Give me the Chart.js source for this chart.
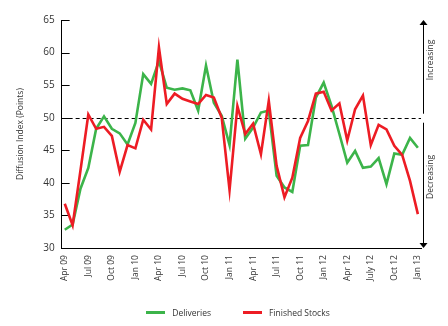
<!DOCTYPE html>
<html>
<head>
<meta charset="utf-8">
<script src="https://cdn.jsdelivr.net/npm/chart.js@4/dist/chart.umd.min.js"></script>
<style>
  html, body { margin: 0; padding: 0; background: #fff; }
  #wrap { position: relative; width: 448px; height: 326px; }
  #legend { position: absolute; left: 14px; top: 307px; width: 448px; display: flex; justify-content: center;
            font: 8.5px "Open Sans", sans-serif; color: #333; }
  #legend span.item { display: flex; align-items: center; margin: 0 16px; }
  #legend span.swatch { display: inline-block; width: 19px; height: 3px; margin-right: 7px; }
</style>
</head>
<body>
<div id="wrap">
  <canvas id="chart" width="448" height="326"></canvas>
  <div id="legend"></div>
</div>
<script>
// months Apr 09 .. Jan 13, one point per month
const tickLabels = ["Apr 09", "Jul 09", "Oct 09", "Jan 10", "Apr 10", "Jul 10", "Oct 10", "Jan 11",
                    "Apr 11", "Jul 11", "Oct 11", "Jan 12", "Apr 12", "July 12", "Oct 12", "Jan 13"];
const tickIndex = tickLabels.map((_, i) => i * 3);

const deliveries = [32.8, 33.6, 39.1, 42.3, 48.3, 50.2, 48.3, 47.6, 45.9, 49.2, 56.7, 55.2, 58.7, 54.6, 54.3, 54.5,
                    54.2, 51.1, 58.0, 52.3, 50.3, 45.8, 58.9, 46.8, 48.5, 50.8, 51.1, 41.1, 39.3, 38.6, 45.7, 45.8,
                    53.1, 55.4, 51.8, 47.5, 43.1, 44.9, 42.3, 42.5, 43.8, 39.8, 44.5, 44.3, 46.9, 45.4];
const finishedStocks = [36.8, 33.5, 41.9, 50.5, 48.3, 48.6, 47.2, 41.7, 45.8, 45.3, 49.7, 48.2, 60.8, 52.1, 53.7, 52.9,
                        52.5, 52.1, 53.5, 53.1, 50.0, 38.9, 51.8, 47.5, 49.1, 44.4, 52.6, 42.6, 37.8, 40.8, 46.9, 49.5,
                        53.7, 54.0, 51.1, 52.2, 46.5, 51.3, 53.4, 45.8, 48.9, 48.2, 45.7, 44.3, 40.3, 35.2];

const GREEN = "#3cb44a";
const RED = "#ed1c24";
const TEXT = "#333333";
const FONT = "'Open Sans', sans-serif";

const toXY = arr => arr.map((v, i) => ({ x: i, y: v }));

const annotate = {
  id: "annotate",
  beforeDatasetsDraw(chart) {
    const { ctx, chartArea, scales: { y } } = chart;
    const y50 = Math.round(y.getPixelForValue(50)) + 0.5;
    ctx.save();
    ctx.strokeStyle = "#000";
    ctx.lineWidth = 1;
    ctx.setLineDash([4, 3]);
    ctx.beginPath();
    ctx.moveTo(chartArea.left, y50);
    ctx.lineTo(chartArea.right, y50);
    ctx.stroke();
    ctx.setLineDash([]);
    // inward y ticks
    y.ticks.forEach(t => {
      const py = Math.round(y.getPixelForValue(t.value)) + 0.5;
      ctx.beginPath();
      ctx.moveTo(chartArea.left, py);
      ctx.lineTo(chartArea.left + 8, py);
      ctx.stroke();
    });
    ctx.restore();
  },
  afterDraw(chart) {
    const { ctx, chartArea, scales: { y } } = chart;
    const ax = Math.round(chartArea.right + 2) + 0.5;
    const top = y.getPixelForValue(65);
    const bot = y.getPixelForValue(30);
    const mid = y.getPixelForValue(50);
    ctx.save();
    ctx.strokeStyle = "#000";
    ctx.fillStyle = "#000";
    ctx.lineWidth = 1;
    ctx.beginPath();
    ctx.moveTo(ax, top + 4);
    ctx.lineTo(ax, mid - 4);
    ctx.moveTo(ax, mid + 5);
    ctx.lineTo(ax, bot - 4);
    ctx.stroke();
    ctx.beginPath();
    ctx.moveTo(ax, top);
    ctx.lineTo(ax - 4, top + 5);
    ctx.lineTo(ax + 4, top + 5);
    ctx.closePath();
    ctx.fill();
    ctx.beginPath();
    ctx.moveTo(ax, bot);
    ctx.lineTo(ax - 4, bot - 5);
    ctx.lineTo(ax + 4, bot - 5);
    ctx.closePath();
    ctx.fill();
    ctx.fillStyle = TEXT;
    ctx.font = "8.5px " + FONT;
    ctx.textAlign = "center";
    ctx.textBaseline = "middle";
    [["Increasing", 60], ["Decreasing", 177]].forEach(([txt, cy]) => {
      ctx.save();
      ctx.translate(ax + 7, cy);
      ctx.rotate(-Math.PI / 2);
      ctx.fillText(txt, 0, 0);
      ctx.restore();
    });
    ctx.restore();
  }
};

const chart = new Chart(document.getElementById("chart"), {
  type: "line",
  data: {
    datasets: [
      { label: "Deliveries", data: toXY(deliveries), borderColor: GREEN, backgroundColor: GREEN,
        borderWidth: 2.6, pointRadius: 0, tension: 0, order: 2 },
      { label: "Finished Stocks", data: toXY(finishedStocks), borderColor: RED, backgroundColor: RED,
        borderWidth: 2.6, pointRadius: 0, tension: 0, order: 1 }
    ]
  },
  options: {
    responsive: false,
    animation: false,
    layout: { padding: { left: 15, right: 27, top: 20, bottom: 38 } },
    plugins: {
      legend: { display: false },
      tooltip: { enabled: false }
    },
    scales: {
      x: {
        type: "linear",
        min: -0.4,
        max: 45.4,
        afterBuildTicks: scale => { scale.ticks = tickIndex.map(v => ({ value: v })); },
        ticks: {
          autoSkip: false,
          minRotation: 90,
          maxRotation: 90,
          padding: 7,
          color: TEXT,
          font: { family: FONT, size: 8.5 },
          callback: v => tickLabels[tickIndex.indexOf(v)]
        },
        grid: { display: false, drawTicks: false },
        border: { display: true, color: "#000", width: 1 }
      },
      y: {
        min: 30,
        max: 65,
        ticks: { stepSize: 5, padding: 7, color: TEXT, font: { family: FONT, size: 10 } },
        grid: { display: false, drawTicks: false },
        border: { display: true, color: "#000", width: 1 },
        title: { display: true, text: "Diffusion Index (Points)", color: TEXT,
                 font: { family: FONT, size: 8.5 }, padding: { top: 0, bottom: 11 } }
      }
    }
  },
  plugins: [annotate]
});

document.getElementById("legend").innerHTML = chart.data.datasets.map(d =>
  `<span class="item"><span class="swatch" style="background:${d.borderColor}"></span>${d.label}</span>`
).join("");
</script>
</body>
</html>
